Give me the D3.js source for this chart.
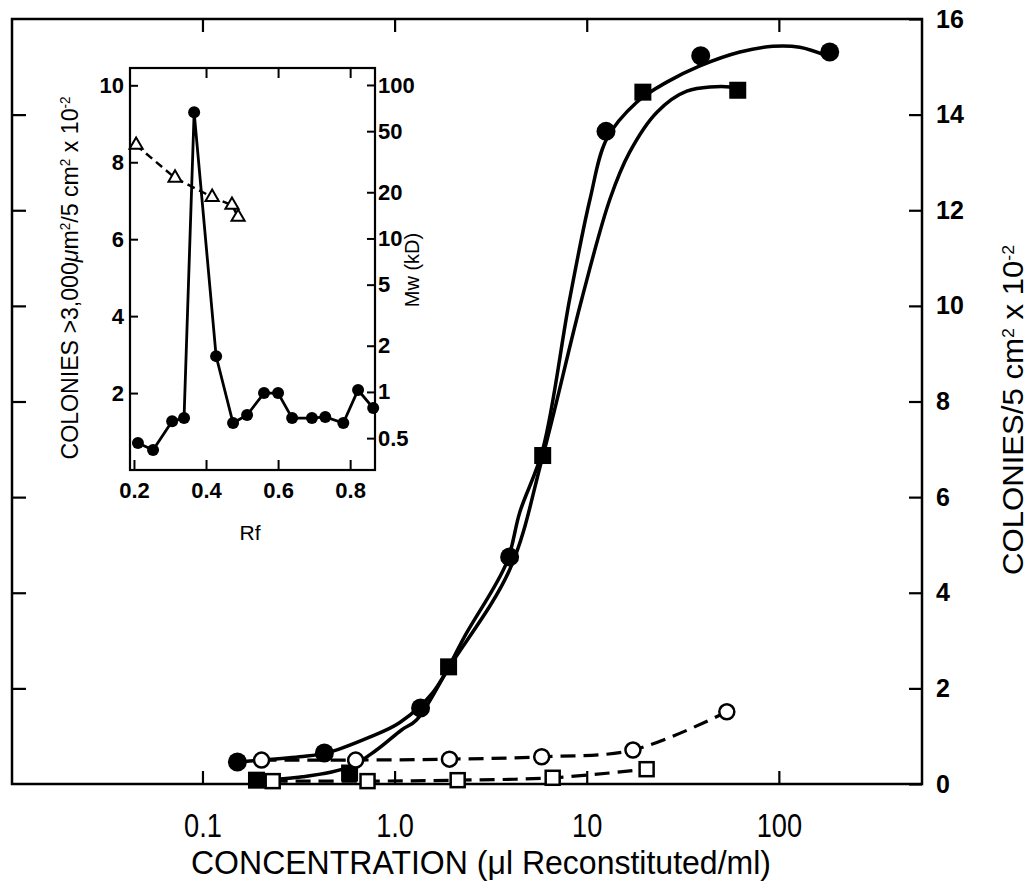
<!DOCTYPE html>
<html>
<head>
<meta charset="utf-8">
<script src="https://cdn.jsdelivr.net/npm/d3@7"></script>
<style>
    body { margin: 0; background: #fff; }
    .narrow { font-family: "Liberation Sans Narrow", "Liberation Sans", Arial, sans-serif; }
    .plain { font-family: "Liberation Sans", Arial, Helvetica, sans-serif; }
</style>
</head>
<body>
<svg id="chart" width="1029" height="881"></svg>
<script>
// main chart data: [concentration (ul/ml), colonies x 10^-2]
const filledCircles = [[0.152, 0.46], [0.431, 0.65], [1.365, 1.59], [3.97, 4.75], [12.6, 13.65], [39.2, 15.23], [184, 15.31]];
const filledSquares = [[0.191, 0.08], [0.583, 0.23], [1.91, 2.45], [5.9, 6.87], [19.6, 14.47], [61.1, 14.51]];
const openCircles = [[0.203, 0.5], [0.627, 0.5], [1.93, 0.52], [5.83, 0.57], [17.4, 0.71], [53.6, 1.51]];
const openSquares = [[0.232, 0.06], [0.723, 0.06], [2.13, 0.08], [6.65, 0.13], [20.5, 0.31]];

// hand-drawn fit curves
const fitCircles = [[0.152, 0.46], [0.32, 0.57], [0.443, 0.65], [0.741, 0.98], [1.06, 1.28], [1.58, 1.91], [2.37, 3.16],
    [3.83, 4.63], [4.48, 5.68], [5.9, 6.99], [8.15, 10.14], [10.4, 12.23], [12.7, 13.49], [18.2, 14.26],
    [26.1, 14.68], [38.8, 15.02], [62.7, 15.31], [93.1, 15.43], [128.5, 15.41], [178, 15.23]];
const fitSquares = [[0.191, 0.08], [0.332, 0.15], [0.583, 0.36], [0.805, 0.71], [1.087, 1.13], [1.3, 1.34], [1.93, 2.45],
    [3.97, 4.48], [5.9, 6.85], [9.42, 10.14], [13.2, 12.23], [16.7, 13.21], [23.2, 14.05], [33.2, 14.49],
    [55.6, 14.58], [61.1, 14.53]];

const xTicks = [0.1, 1, 10, 100];
const xTickLabels = ["0.1", "1.0", "10", "100"];
const yTicks = [0, 2, 4, 6, 8, 10, 12, 14, 16];

// inset data: [Rf, colonies] and [Rf, Mw kD]
const insetColonies = [[0.211, 0.7], [0.253, 0.52], [0.306, 1.27], [0.339, 1.35], [0.367, 9.3], [0.428, 2.96],
    [0.475, 1.22], [0.514, 1.43], [0.561, 2.0], [0.6, 2.0], [0.639, 1.35], [0.694, 1.35], [0.731, 1.38],
    [0.781, 1.22], [0.822, 2.08], [0.864, 1.61]];
const insetMw = [[0.206, 40.6], [0.314, 24.8], [0.417, 18.6], [0.472, 16.5], [0.489, 13.8]];

const insetXTicks = [0.2, 0.4, 0.6, 0.8];
const insetYTicks = [2, 4, 6, 8, 10];
const insetMwTicks = [0.5, 1, 2, 5, 10, 20, 50, 100];

const svg = d3.select("#chart");

// main scales
const x = d3.scaleLog().domain([0.0102, 556]).range([12, 922]);
const y = d3.scaleLinear().domain([0, 16]).range([784, 19]);

// frame
svg.append("rect")
    .attr("x", 12).attr("y", 19)
    .attr("width", 910).attr("height", 765)
    .attr("fill", "none")
    .attr("stroke", "#000")
    .attr("stroke-width", 2.5);

// axes, ticks pointing inward
const xAxis = svg.append("g")
    .attr("transform", "translate(0,784)")
    .call(d3.axisBottom(x).tickValues(xTicks).tickSizeInner(-13).tickSizeOuter(0).tickPadding(29)
        .tickFormat((d, i) => xTickLabels[i]));

svg.append("g")
    .attr("transform", "translate(0,19)")
    .call(d3.axisTop(x).tickValues(xTicks).tickSizeInner(-13).tickSizeOuter(0).tickFormat(""));

const yAxis = svg.append("g")
    .attr("transform", "translate(922,0)")
    .call(d3.axisRight(y).tickValues(yTicks).tickSizeInner(-13).tickSizeOuter(0).tickPadding(14));

svg.append("g")
    .attr("transform", "translate(12,0)")
    .call(d3.axisLeft(y).tickValues(yTicks.slice(1, -1)).tickSizeInner(-14).tickSizeOuter(0).tickFormat(""));

svg.selectAll(".domain").remove();
svg.selectAll(".tick line").attr("stroke", "#000").attr("stroke-width", 2.2);

// narrow look for the bottom tick labels
xAxis.selectAll("text")
    .attr("class", "narrow")
    .attr("transform", "scale(0.8,1)")
    .style("font-size", "34px")
    .attr("fill", "#000");

yAxis.selectAll("text")
    .attr("class", "plain")
    .style("font-size", "25px")
    .style("font-weight", "bold")
    .attr("fill", "#000");

// axis titles
svg.append("text")
    .attr("class", "narrow")
    .attr("x", 481).attr("y", 874)
    .attr("text-anchor", "middle")
    .style("font-size", "34px")
    .attr("textLength", 580)
    .attr("lengthAdjust", "spacingAndGlyphs")
    .text("CONCENTRATION (μl Reconstituted/ml)");

const yTitle = svg.append("text")
    .attr("class", "narrow")
    .attr("transform", "translate(1023,410) rotate(-90)")
    .attr("text-anchor", "middle")
    .style("font-size", "30px")
    .attr("textLength", 330)
    .attr("lengthAdjust", "spacingAndGlyphs");
yTitle.append("tspan").text("COLONIES/5 cm");
yTitle.append("tspan").attr("baseline-shift", "super").style("font-size", "17px").text("2");
yTitle.append("tspan").text(" x 10");
yTitle.append("tspan").attr("baseline-shift", "super").style("font-size", "17px").text("-2");

// fitted curves
const fitLine = d3.line()
    .x(d => x(d[0]))
    .y(d => y(d[1]))
    .curve(d3.curveCatmullRom.alpha(0.5));

[fitCircles, fitSquares].forEach(data => {
    svg.append("path")
        .datum(data)
        .attr("d", fitLine)
        .attr("fill", "none")
        .attr("stroke", "#000")
        .attr("stroke-width", 3.5);
});

// dashed curves through open markers
[openCircles, openSquares].forEach(data => {
    svg.append("path")
        .datum(data)
        .attr("d", fitLine)
        .attr("fill", "none")
        .attr("stroke", "#000")
        .attr("stroke-width", 3.2)
        .attr("stroke-dasharray", "15,8");
});

// markers
svg.append("g").selectAll("circle")
    .data(filledCircles)
    .enter().append("circle")
    .attr("cx", d => x(d[0]))
    .attr("cy", d => y(d[1]))
    .attr("r", 9.5)
    .attr("fill", "#000");

svg.append("g").selectAll("rect")
    .data(filledSquares)
    .enter().append("rect")
    .attr("x", d => x(d[0]) - 8.5)
    .attr("y", d => y(d[1]) - 8.5)
    .attr("width", 17).attr("height", 17)
    .attr("fill", "#000");

svg.append("g").selectAll("circle")
    .data(openCircles)
    .enter().append("circle")
    .attr("cx", d => x(d[0]))
    .attr("cy", d => y(d[1]))
    .attr("r", 7.5)
    .attr("fill", "#fff")
    .attr("stroke", "#000")
    .attr("stroke-width", 2.5);

svg.append("g").selectAll("rect")
    .data(openSquares)
    .enter().append("rect")
    .attr("x", d => x(d[0]) - 7)
    .attr("y", d => y(d[1]) - 7)
    .attr("width", 14).attr("height", 14)
    .attr("fill", "#fff")
    .attr("stroke", "#000")
    .attr("stroke-width", 2.5);

// ---------- inset ----------
const ix = d3.scaleLinear().domain([0.189, 0.869]).range([130, 375]);
const iy = d3.scaleLinear().domain([0, 10.45]).range([470, 68]);
const iyMw = d3.scaleLog().domain([0.31, 129]).range([470, 68]);

const inset = svg.append("g");

inset.append("rect")
    .attr("x", 130).attr("y", 68)
    .attr("width", 245).attr("height", 402)
    .attr("fill", "#fff")
    .attr("stroke", "#000")
    .attr("stroke-width", 2.2);

inset.append("g")
    .attr("transform", "translate(0,470)")
    .call(d3.axisBottom(ix).tickValues(insetXTicks).tickSizeInner(-10).tickSizeOuter(0).tickPadding(12)
        .tickFormat(d3.format(".1f")));

inset.append("g")
    .attr("transform", "translate(0,68)")
    .call(d3.axisTop(ix).tickValues(insetXTicks.slice(1)).tickSizeInner(-10).tickSizeOuter(0).tickFormat(""));

inset.append("g")
    .attr("transform", "translate(130,0)")
    .call(d3.axisLeft(iy).tickValues(insetYTicks).tickSizeInner(-8).tickSizeOuter(0).tickPadding(6));

inset.append("g")
    .attr("transform", "translate(375,0)")
    .call(d3.axisRight(iyMw).tickValues(insetMwTicks).tickSizeInner(-8).tickSizeOuter(0).tickPadding(3)
        .tickFormat(d => String(d)));

inset.selectAll(".domain").remove();
inset.selectAll(".tick line").attr("stroke", "#000").attr("stroke-width", 2);
inset.selectAll(".tick text")
    .attr("class", "plain")
    .style("font-size", "22px")
    .style("font-weight", "bold")
    .attr("fill", "#000");

// inset lines
inset.append("path")
    .datum(insetColonies)
    .attr("d", d3.line().x(d => ix(d[0])).y(d => iy(d[1])))
    .attr("fill", "none")
    .attr("stroke", "#000")
    .attr("stroke-width", 2.8);

inset.append("path")
    .datum(insetMw)
    .attr("d", d3.line().x(d => ix(d[0])).y(d => iyMw(d[1])))
    .attr("fill", "none")
    .attr("stroke", "#000")
    .attr("stroke-width", 2.5)
    .attr("stroke-dasharray", "8,5");

inset.append("g").selectAll("circle")
    .data(insetColonies)
    .enter().append("circle")
    .attr("cx", d => ix(d[0]))
    .attr("cy", d => iy(d[1]))
    .attr("r", 6)
    .attr("fill", "#000");

inset.append("g").selectAll("path")
    .data(insetMw)
    .enter().append("path")
    .attr("transform", d => `translate(${ix(d[0])},${iyMw(d[1])})`)
    .attr("d", d3.symbol(d3.symbolTriangle, 75))
    .attr("fill", "#fff")
    .attr("stroke", "#000")
    .attr("stroke-width", 2);

// inset titles
inset.append("text")
    .attr("class", "plain")
    .attr("x", 250).attr("y", 540)
    .attr("text-anchor", "middle")
    .style("font-size", "21px")
    .text("Rf");

inset.append("text")
    .attr("class", "plain")
    .attr("transform", "translate(419,270) rotate(-90)")
    .attr("text-anchor", "middle")
    .style("font-size", "20px")
    .text("Mw (kD)");

const iTitle = inset.append("text")
    .attr("class", "narrow")
    .attr("transform", "translate(78,278) rotate(-90)")
    .attr("text-anchor", "middle")
    .style("font-size", "24px")
    .attr("textLength", 363)
    .attr("lengthAdjust", "spacingAndGlyphs");
iTitle.append("tspan").text("COLONIES >3,000");
iTitle.append("tspan").style("font-style", "italic").text("μ");
iTitle.append("tspan").text("m");
iTitle.append("tspan").attr("baseline-shift", "super").style("font-size", "14px").text("2");
iTitle.append("tspan").text("/5 cm");
iTitle.append("tspan").attr("baseline-shift", "super").style("font-size", "14px").text("2");
iTitle.append("tspan").text(" x 10");
iTitle.append("tspan").attr("baseline-shift", "super").style("font-size", "14px").text("-2");
</script>
</body>
</html>
